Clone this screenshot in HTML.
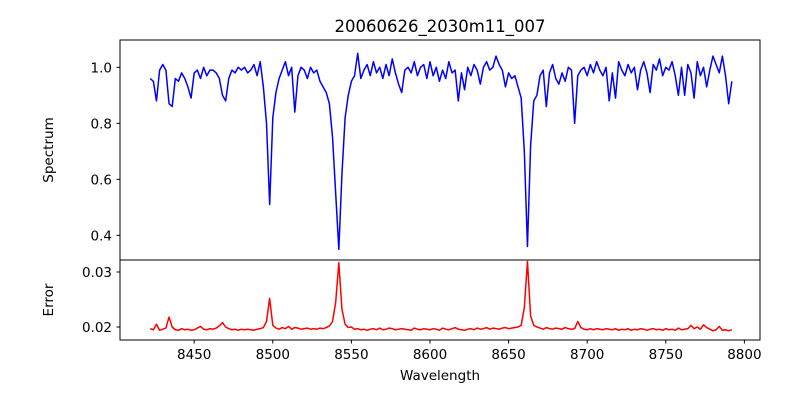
<!DOCTYPE html>
<html><head><meta charset="utf-8"><style>
body{margin:0;background:#fff}
svg{display:block;font-family:"DejaVu Sans","Liberation Sans",sans-serif}
</style></head><body>
<svg id="chart" width="800" height="400" viewBox="0 0 800 400">
<rect width="800" height="400" fill="#fff"/>
<text x="440" y="32" text-anchor="middle" font-size="16.5">20060626_2030m11_007</text>
<g id="topPanel"></g>
<g id="botPanel"></g>
<text transform="translate(53,150) rotate(-90)" text-anchor="middle" font-size="13.5">Spectrum</text>
<text transform="translate(53,300) rotate(-90)" text-anchor="middle" font-size="13.5">Error</text>
<text x="440" y="380" text-anchor="middle" font-size="13.5">Wavelength</text>
</svg>
<script>
const wlStart = 8422, wlStep = 2;
const spectrum = [
0.96,0.95,0.88,0.99,1.01,0.99,0.87,0.86,0.96,0.95,
0.98,0.96,0.93,0.89,0.98,0.99,0.96,1.00,0.97,0.99,
0.99,0.98,0.96,0.90,0.88,0.96,0.99,0.98,1.00,0.99,
1.00,0.98,0.99,1.01,0.97,1.02,0.93,0.80,0.51,0.82,
0.91,0.96,0.99,1.02,0.97,1.00,0.84,0.97,1.00,0.99,
0.96,1.00,0.98,0.99,0.95,0.93,0.91,0.87,0.75,0.55,
0.35,0.62,0.82,0.90,0.95,0.97,1.05,0.96,0.99,1.01,
0.97,1.02,0.98,1.00,0.96,1.01,0.97,1.03,0.98,0.94,
0.91,0.99,1.00,0.98,1.02,0.97,1.00,1.01,0.96,1.02,
0.97,1.00,0.95,0.99,0.96,1.02,0.98,0.99,0.88,0.98,
0.92,1.00,0.97,1.01,0.99,0.94,1.00,1.02,0.99,1.00,
1.04,1.01,0.99,0.93,0.98,0.96,0.97,0.93,0.89,0.70,
0.36,0.72,0.88,0.90,0.97,0.99,0.86,0.98,1.01,0.96,
0.94,0.98,0.95,1.00,0.99,0.80,0.97,0.99,1.00,0.97,
1.01,0.98,1.02,0.99,0.97,1.00,0.88,0.98,0.89,1.02,
0.99,0.97,1.01,0.98,1.00,0.92,0.99,1.02,0.98,0.91,
1.01,0.99,1.03,0.97,1.00,0.99,1.02,0.97,0.90,1.00,
0.90,1.01,0.98,0.89,1.02,0.97,1.00,0.93,0.99,1.04,
1.01,0.98,1.04,0.97,0.87,0.95];
const errors = [
.0197,.0195,.0205,.0194,.0196,.0198,.0218,.0200,.0195,.0194,
.0197,.0195,.0196,.0194,.0195,.0198,.0201,.0196,.0195,.0197,
.0196,.0198,.0202,.0208,.0200,.0197,.0195,.0196,.0194,.0196,
.0195,.0196,.0195,.0194,.0196,.0197,.0199,.0210,.0252,.0203,
.0198,.0196,.0199,.0197,.0201,.0196,.0199,.0198,.0196,.0197,
.0198,.0196,.0197,.0196,.0198,.0197,.0199,.0202,.0210,.0245,
.0317,.0232,.0205,.0199,.0200,.0196,.0197,.0195,.0196,.0194,
.0196,.0197,.0195,.0198,.0195,.0196,.0198,.0197,.0195,.0196,
.0197,.0196,.0195,.0194,.0198,.0196,.0195,.0197,.0196,.0195,
.0197,.0196,.0194,.0198,.0196,.0195,.0197,.0199,.0196,.0195,
.0194,.0196,.0197,.0195,.0198,.0196,.0197,.0199,.0196,.0198,
.0197,.0196,.0198,.0199,.0197,.0198,.0199,.0200,.0203,.0235,
.0319,.0220,.0203,.0200,.0198,.0196,.0199,.0197,.0196,.0198,
.0197,.0196,.0199,.0197,.0196,.0197,.0210,.0199,.0196,.0195,
.0197,.0195,.0197,.0196,.0195,.0197,.0196,.0195,.0197,.0194,
.0196,.0195,.0197,.0194,.0196,.0195,.0197,.0196,.0194,.0196,
.0197,.0195,.0196,.0194,.0197,.0195,.0196,.0194,.0198,.0195,
.0196,.0197,.0203,.0197,.0200,.0196,.0204,.0199,.0196,.0193,
.0195,.0201,.0194,.0195,.0193,.0195];
const xTicks = [8450,8500,8550,8600,8650,8700,8750,8800];
const specTicks = [0.4,0.6,0.8,1.0];
const errTicks = [0.02,0.03];

const NS="http://www.w3.org/2000/svg";
const X = v => 194.2 + (v-8450)*1.572;
const YS = v => 67.3 + (1.0-v)*280;
const YE = v => 327 - (v-0.02)*5500;
function mk(tag, attrs, parent){const e=document.createElementNS(NS,tag);for(const k in attrs)e.setAttribute(k,attrs[k]);parent.appendChild(e);return e;}
const topG=document.getElementById('topPanel'), botG=document.getElementById('botPanel');

function drawPath(arr, Y, color, parent, name){
  let d='';
  arr.forEach((v,i)=>{d+=(i?'L':'M')+X(wlStart+i*wlStep).toFixed(2)+','+Y(v).toFixed(2);});
  const p=mk('path',{d:d,fill:'none',stroke:color,'stroke-width':1.5,'stroke-linejoin':'round'},parent);
  
  
}
drawPath(spectrum, YS, '#0000ff', topG, 'spectrum-line');
drawPath(errors, YE, '#ff0000', botG, 'error-line');

const f1=mk('rect',{x:120,y:40,width:640,height:220,fill:'none',stroke:'#000','stroke-width':1},topG);


const f2=mk('rect',{x:120,y:260,width:640,height:80,fill:'none',stroke:'#000','stroke-width':1},botG);



specTicks.forEach(v=>{
  const y=YS(v);
  const t=mk('line',{x1:116.5,x2:120,y1:y,y2:y,stroke:'#000'},topG);
  
  
  const l=mk('text',{x:112,y:y+5,'text-anchor':'end','font-size':13.5},topG);
  l.textContent=v.toFixed(1);
  
  
});
errTicks.forEach(v=>{
  const y=YE(v);
  const t=mk('line',{x1:116.5,x2:120,y1:y,y2:y,stroke:'#000'},botG);
  
  
  const l=mk('text',{x:112,y:y+5,'text-anchor':'end','font-size':13.5},botG);
  l.textContent=v.toFixed(2);
  
  
});
xTicks.forEach(v=>{
  const x=X(v);
  const t=mk('line',{x1:x,x2:x,y1:340,y2:343.5,stroke:'#000'},botG);
  
  
  const l=mk('text',{x:x,y:359,'text-anchor':'middle','font-size':13.5},botG);
  l.textContent=String(v);
  
  
});
</script>
</body></html>
